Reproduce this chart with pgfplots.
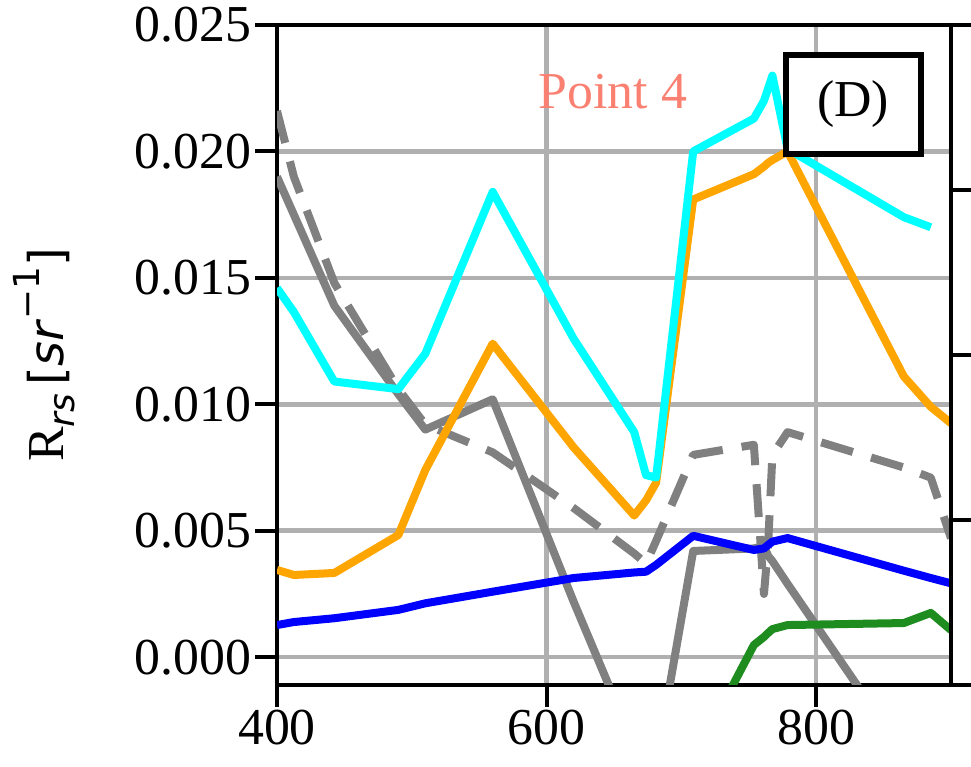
\documentclass[border=0pt]{standalone}
\usepackage{fontspec}
\setmainfont{Liberation Serif}
\newfontfamily\dvs{DejaVu Sans}
\usepackage{pgfplots}
\pgfplotsset{compat=1.18}
\usepackage{pgfplotstable}
\definecolor{gridgray}{HTML}{B0B0B0}
\definecolor{ggreen}{HTML}{1E8C1E}
\definecolor{salmonc}{HTML}{FA8072}
\definecolor{oorange}{HTML}{FFA500}
\definecolor{ccyan}{HTML}{00FFFF}
\definecolor{bblue}{HTML}{0000FF}
\definecolor{ggray}{HTML}{808080}

\pgfplotstableread{
wl      blue     green    orange   cyan    gsol     gdash
400     0.00127  -0.005   0.00345  0.0146  0.0190   0.0216
412.5   0.00139  -0.005   0.00325  0.01365 0.0175   0.0190
442.5   0.00154  -0.005   0.00333  0.0109  0.0139   0.0148
490     0.00187  -0.005   0.00483  0.0106  0.0104   0.0106
510     0.00213  -0.005   0.0074   0.0120  0.0090   0.0092
560     0.00259  -0.005   0.0124   0.0184  0.0102   0.0081
620     0.00313  -0.005   0.0083   0.0126  0.0022   0.0059
665     0.00335  -0.005   0.0056   0.0089  -0.0035  0.0041
673.75  0.00338  -0.005   0.0062   0.0072  -0.0045  0.0037
681.25  0.00365  -0.005   0.0069   0.0071  -0.0042  0.0046
708.75  0.0048   -0.0041  0.0181   0.0200  0.0042   0.0080
753.75  0.00424  0.00048  0.0191   0.0213  0.0043   0.0084
761.25  0.0043   0.0008   0.0194   0.0220  0.0044   0.0025
764.375 0.00444  0.00096  0.01955  0.0225  0.0040   0.0045
767.5   0.00457  0.00111  0.01966  0.0230  0.0038   0.0080
778.75  0.00471  0.00127  0.0200   0.0201  0.0029   0.0089
865     0.00342  0.00135  0.0111   0.0174  -0.0038  0.0075
885     0.00313  0.00175  0.0099   0.0170  -0.005   0.0071
900     0.00292  0.00107  0.00925  nan     -0.005   0.0047
}\datatab

\pgfplotsset{
  layers/mylayers/.define layer set={axis background,axis grid,main,axis ticks,axis lines,axis tick labels,axis descriptions,axis foreground}{},
}

\begin{document}
\begin{tikzpicture}[x=1bp,y=1bp]
\begin{axis}[
  set layers=mylayers,
  at={(277bp,82bp)}, anchor=south west,
  scale only axis, width=674bp, height=660bp,
  xmin=400, xmax=900, ymin=-0.0011, ymax=0.025,
  xtick={400,600,800}, ytick={0,0.005,0.01,0.015,0.02,0.025},
  xtick pos=bottom, ytick pos=left,
  grid=major, major grid style={color=gridgray, line width=4.5bp},
  axis line style={black, line width=4bp},
  tick align=outside, major tick length=22bp,
  tick style={black, line width=4bp},
  /pgf/number format/assume math mode=true,
  yticklabel style={/pgf/number format/.cd, fixed, fixed zerofill, precision=3},
  xticklabel style={/pgf/number format/.cd, fixed, precision=0, set thousands separator={}},
  scaled y ticks=false,
  tick label style={font=\rmfamily\fontsize{52}{60}\selectfont},
  ylabel={R\raisebox{-0.22em}{\fontsize{36}{40}\selectfont\dvs\itshape rs}\,{\fontsize{48}{56}\selectfont\dvs[\textit{sr}\raisebox{0.5em}{\fontsize{36}{40}\selectfont \textup{−1}}]}},
  ylabel style={font=\rmfamily\fontsize{52}{60}\selectfont, at={(axis description cs:-0.345,0.5)}, anchor=center},
  unbounded coords=jump,
  every axis plot/.append style={line width=8bp, line join=round},
  after end axis/.code={
    \draw[black, line width=4bp] (rel axis cs:1,0) -- ++(40bp,0);
    \draw[black, line width=4bp] (rel axis cs:1,1) -- ++(40bp,0);
  },
]
\addplot[ggray, dash pattern=on 33bp off 19bp] table[x=wl, y=gdash] {\datatab};
\addplot[ggray] table[x=wl, y=gsol] {\datatab};
\addplot[bblue] table[x=wl, y=blue] {\datatab};
\addplot[ggreen] table[x=wl, y=green] {\datatab};
\addplot[oorange] table[x=wl, y=orange] {\datatab};
\addplot[ccyan] table[x=wl, y=cyan] {\datatab};
\node[anchor=base, text=salmonc, font=\rmfamily\fontsize{52}{60}\selectfont] at (rel axis cs:0.4985,0.874) {Point 4};
\node[draw=black, line width=6bp, fill=white, minimum width=135bp, minimum height=99bp, inner sep=0pt, font=\rmfamily\fontsize{52}{60}\selectfont] at (rel axis cs:0.855,0.8795) {(D)};
\end{axis}
\begin{axis}[
  at={(277bp,82bp)}, anchor=south west,
  scale only axis, width=674bp, height=660bp,
  xmin=0, xmax=1, ymin=0, ymax=1,
  axis x line=none, axis y line*=right,
  ytick={0.25,0.5,0.75}, yticklabels={},
  tick align=outside, major tick length=22bp,
  tick style={black, line width=4bp},
  axis line style={black, line width=4bp},
]
\addplot[draw=none] coordinates {(0,0) (1,1)};
\end{axis}
\pgfresetboundingbox
\useasboundingbox (0,0) rectangle (971,767);
\end{tikzpicture}
\end{document}
